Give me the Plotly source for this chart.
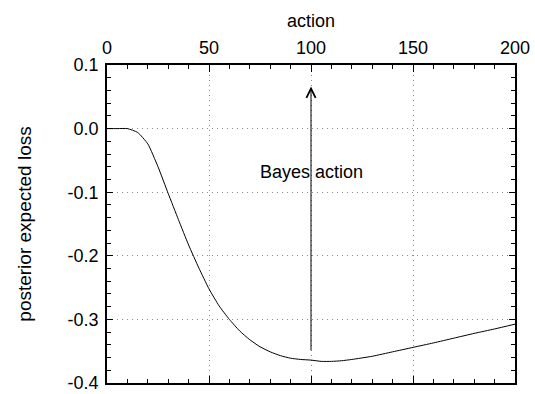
import plotly.graph_objects as go

# posterior expected loss as a function of the action
action = [0, 5, 10, 15, 20, 25, 30, 35, 40, 45, 50, 55, 60, 65, 70, 75, 80, 85,
          90, 95, 100, 105, 110, 115, 120, 130, 140, 150, 160, 170, 180, 190, 200]
loss = [0.0, 0.0, 0.0, -0.006, -0.024, -0.060, -0.102, -0.143, -0.183, -0.219,
        -0.252, -0.279, -0.300, -0.318, -0.332, -0.343, -0.351, -0.357, -0.361,
        -0.363, -0.364, -0.366, -0.366, -0.365, -0.363, -0.358, -0.351, -0.344,
        -0.337, -0.3295, -0.322, -0.315, -0.3075]

bayes_action = 100
arrow_base = -0.351
arrow_tip = 0.066
label_y = -0.068

x_ticks = [0, 50, 100, 150, 200]
y_ticks = [0.1, 0.0, -0.1, -0.2, -0.3, -0.4]
y_labels = ["0.1", "0.0", "-0.1", "-0.2", "-0.3", "-0.4"]

FONT = "Liberation Sans, Arial, sans-serif"

fig = go.Figure()
fig.add_trace(go.Scatter(
    x=action, y=loss, mode="lines",
    line=dict(color="black", width=1, shape="spline", smoothing=0.5),
    hoverinfo="skip", showlegend=False,
))

# arrow marking the Bayes action
fig.add_annotation(
    x=bayes_action, y=arrow_tip, ax=bayes_action, ay=arrow_base,
    xref="x", yref="y", axref="x", ayref="y",
    text="", showarrow=True, arrowhead=5, arrowsize=1.8, arrowwidth=1,
    arrowcolor="black", standoff=0, startstandoff=0,
)
fig.add_annotation(
    x=bayes_action, y=label_y, xref="x", yref="y",
    text="Bayes action", showarrow=False,
    font=dict(family=FONT, size=18, color="black"),
)

grid = dict(showgrid=True, gridcolor="#8a8a8a", griddash="1px,4px", gridwidth=1)

fig.update_xaxes(
    range=[0, 200], side="top", automargin=False,
    tickvals=x_ticks, ticktext=[str(v) for v in x_ticks],
    ticks="inside", ticklen=7, tickwidth=1, tickcolor="black",
    minor=dict(dtick=10, ticks="inside", ticklen=4, tickcolor="black", showgrid=False),
    showline=True, linecolor="black", linewidth=1.5, mirror="allticks",
    zeroline=False, ticklabelstandoff=2, ticklabeloverflow="allow",
    tickfont=dict(family=FONT, size=18, color="black"),
    title=dict(text="action", font=dict(family=FONT, size=18, color="black"), standoff=6),
    **grid,
)
fig.update_yaxes(
    range=[-0.4, 0.1], automargin=False,
    tickvals=y_ticks, ticktext=y_labels,
    ticks="inside", ticklen=6, tickwidth=1, tickcolor="black",
    minor=dict(dtick=0.02, tick0=0, ticks="inside", ticklen=4, tickcolor="black", showgrid=False),
    showline=True, linecolor="black", linewidth=1.5, mirror="allticks",
    zeroline=False, ticklabelstandoff=3, ticklabeloverflow="allow",
    tickfont=dict(family=FONT, size=18, color="black"),
    title=dict(text="posterior expected loss", font=dict(family=FONT, size=19, color="black"), standoff=31),
    **grid,
)

fig.update_layout(
    width=535, height=394,
    margin=dict(l=107, r=20, t=65, b=11),
    paper_bgcolor="white", plot_bgcolor="white",
)

fig.write_html("out.html")
